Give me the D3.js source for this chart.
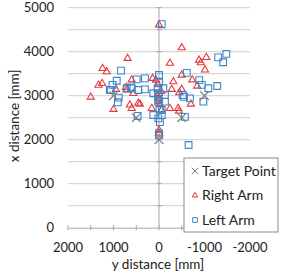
<!DOCTYPE html>
<html lang="en">
<head>
<meta charset="UTF-8" />
<title>Arm reach scatter</title>
<style>
  body { margin: 0; background: #fff; }
  text { font-family: Lato, "Liberation Sans", sans-serif; fill: #222; }
</style>
</head>
<body>
<script src="https://cdn.jsdelivr.net/npm/d3@7"></script>
<div id="app"></div>
<script>
// data: [y distance, x distance] in mm
const targetPoint = [[1000, 3000], [500, 2500], [0, 2000], [-500, 2500], [-1000, 3000]];
const rightArm = [
  [1240, 3620], [1150, 3545], [1330, 3240], [1250, 3280], [1500, 2970], [1000, 2690],
  [600, 3360], [690, 3850], [725, 3190], [945, 3145], [640, 2790], [600, 2710],
  [565, 3050], [0, 4610], [-500, 4090], [-240, 3740], [-880, 3810], [-1040, 3870],
  [-920, 3750], [-1010, 3585], [-500, 3470], [-315, 3320], [-730, 3360], [-840, 3220],
  [-280, 3145], [-500, 3145], [-445, 3070], [-700, 2810], [-240, 2710], [-440, 2650],
  [140, 3395], [65, 3355], [420, 2810], [710, 3130], [455, 2830], [160, 2710],
  [-60, 2675], [-420, 2710], [0, 2220], [0, 2150], [0, 3050], [0, 2900],
  [20, 3250], [-20, 2800], [0, 2950], [-50, 3100]
];
const leftArm = [
  [835, 3570], [930, 3340], [1020, 3245], [1060, 3130], [885, 2955], [905, 2850],
  [710, 3170], [615, 3190], [490, 3370], [470, 2540], [-60, 4625], [-1300, 3870],
  [-1480, 3950], [-1410, 3760], [-610, 3520], [-885, 3355], [-940, 3245], [-1085, 3170],
  [-1280, 3220], [-520, 3015], [-550, 2975], [-680, 2940], [-975, 2865], [-570, 2520],
  [310, 3395], [310, 3145], [125, 3055], [-130, 3015], [125, 2560], [-60, 2675],
  [600, 3170], [455, 3130], [30, 3170], [-95, 3170], [15, 2975], [15, 2865],
  [-130, 2865], [15, 2485], [-60, 2560], [0, 2145], [0, 2100], [-650, 1880],
  [0, 3470], [0, 3300], [20, 3050], [-10, 2700], [-20, 2400], [10, 2900], [1080, 3130]
];
const xTicks = [2000, 1000, 0, -1000, -2000];
const yTicks = [0, 1000, 2000, 3000, 4000, 5000];
const legendNames = ["Target Point", "Right Arm", "Left Arm"];

const w = 281, h = 275;
const svg = d3.select("#app").append("svg").attr("width", w).attr("height", h);

const x = d3.scaleLinear().domain([2000, -2000]).range([68, 250]);
const y = d3.scaleLinear().domain([0, 5000]).range([227.7, 7.7]);

const red = "#e8383d", blue = "#3b87c9", grey = "#7f7f7f";

// gridlines every 500
const grid = d3.range(500, 5001, 500);
svg.append("g").selectAll("line").data(grid).enter().append("line")
  .attr("x1", x(2000)).attr("x2", x(-2000))
  .attr("y1", d => y(d)).attr("y2", d => y(d))
  .attr("stroke", "#cfcfcf").attr("stroke-width", 1);

// axes crossing at 0
const xAxis = d3.axisBottom(x).tickValues(d3.range(2000, -2001, -500)).tickSize(0).tickFormat("");
svg.append("g").attr("transform", "translate(0," + y(0) + ")").call(xAxis)
  .call(g => g.select(".domain").attr("stroke", "#a6a6a6"));
svg.append("g").selectAll("line").data(d3.range(2000, -2001, -500)).enter().append("line")
  .attr("x1", d => x(d)).attr("x2", d => x(d))
  .attr("y1", y(0) - 2.5).attr("y2", y(0) + 2.5).attr("stroke", "#a6a6a6");

svg.append("line").attr("x1", x(0)).attr("x2", x(0)).attr("y1", y(5000)).attr("y2", y(0))
  .attr("stroke", "#a6a6a6");
svg.append("g").selectAll("line").data(grid).enter().append("line")
  .attr("x1", x(0) - 2.5).attr("x2", x(0) + 2.5)
  .attr("y1", d => y(d)).attr("y2", d => y(d)).attr("stroke", "#a6a6a6");

// tick labels
svg.append("g").selectAll("text").data(yTicks).enter().append("text")
  .attr("x", 54).attr("y", d => y(d)).attr("dy", "0.35em")
  .attr("text-anchor", "end").style("font-size", "13px").text(d => d);
svg.append("g").selectAll("text").data(xTicks).enter().append("text")
  .attr("x", d => x(d)).attr("y", 251.5)
  .attr("text-anchor", "middle").style("font-size", "13px").text(d => d);

// axis titles
svg.append("text").attr("x", 158).attr("y", 268.5).attr("text-anchor", "middle")
  .style("font-size", "13.5px").text("y distance [mm]");
svg.append("text").attr("transform", "translate(19,116) rotate(-90)").attr("text-anchor", "middle")
  .style("font-size", "13.5px").text("x distance [mm]");

// markers
const tri = d3.symbol(d3.symbolTriangle, 22);
const sq = d3.symbol(d3.symbolSquare, 46);
const cross = d3.symbol(d3.symbolX, 50);

svg.append("g").selectAll("path").data(rightArm).enter().append("path")
  .attr("d", tri).attr("transform", d => "translate(" + x(d[0]) + "," + y(d[1]) + ")")
  .attr("fill", "none").attr("stroke", red).attr("stroke-width", 1.1);
svg.append("g").selectAll("path").data(leftArm).enter().append("path")
  .attr("d", sq).attr("transform", d => "translate(" + x(d[0]) + "," + y(d[1]) + ")")
  .attr("fill", "none").attr("stroke", blue).attr("stroke-width", 1.1);
svg.append("g").selectAll("path").data(targetPoint).enter().append("path")
  .attr("d", cross).attr("transform", d => "translate(" + x(d[0]) + "," + y(d[1]) + ")")
  .attr("fill", "none").attr("stroke", grey).attr("stroke-width", 1.2);

// legend
const legend = svg.append("g").attr("transform", "translate(184,158)");
legend.append("rect").attr("width", 94).attr("height", 74)
  .attr("fill", "#fff").attr("stroke", "#8c8c8c");
const legSym = [d3.symbol(d3.symbolX, 30), d3.symbol(d3.symbolTriangle, 12), d3.symbol(d3.symbolSquare, 22)];
const legCol = [grey, red, blue];
const item = legend.selectAll(".item").data(legendNames).enter().append("g")
  .attr("transform", (d, i) => "translate(0," + (13 + i * 24.5) + ")");
item.append("path").attr("d", (d, i) => legSym[i]()).attr("transform", "translate(11,0)")
  .attr("fill", "none").attr("stroke", (d, i) => legCol[i]).attr("stroke-width", 1);
item.append("text").attr("x", 18).attr("dy", "0.35em").style("font-size", "14px").text(d => d);
</script>
</body>
</html>
